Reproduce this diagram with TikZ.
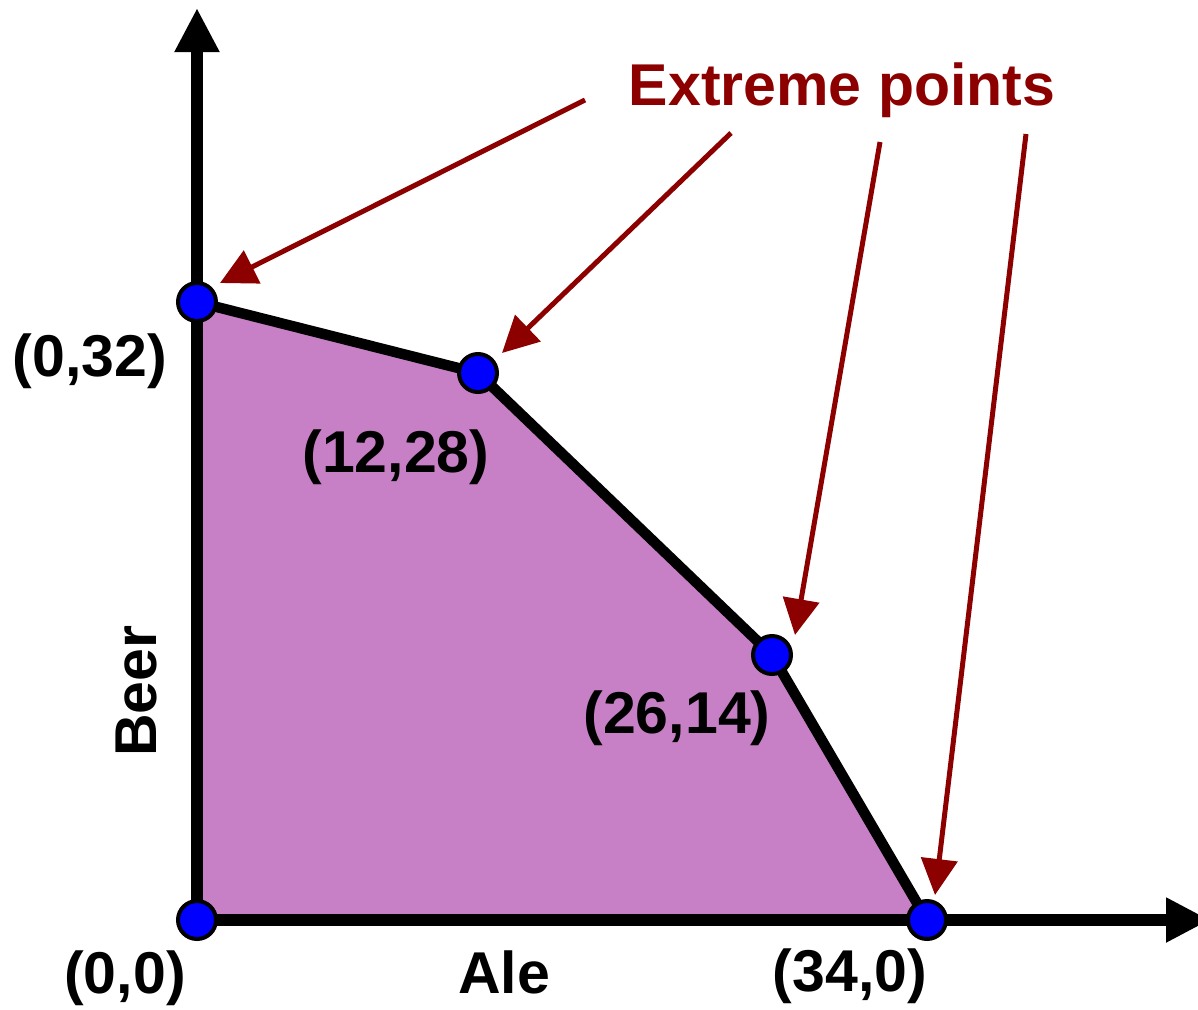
\documentclass[tikz,border=0pt]{standalone}
\usepackage{fontspec}
\setmainfont{Liberation Sans}
\usetikzlibrary{arrows.meta}
\definecolor{regionfill}{RGB}{199,127,198}
\definecolor{darkred}{RGB}{140,0,0}
\begin{document}
\begin{tikzpicture}[x=1pt,y=-1pt,
  axisline/.style={line width=12pt,-{Triangle[length=44pt,width=42pt]}},
  edgeline/.style={line width=10.5pt,line join=round},
  vertexdot/.style={circle,fill=blue,draw=black,line width=4pt,minimum size=38pt,inner sep=0pt},
  pointer/.style={darkred,line width=5pt,-{Triangle[length=36pt,width=36pt]}},
  lbl/.style={font=\fontsize{59}{61}\selectfont\bfseries,inner sep=0pt,anchor=base},
  redlbl/.style={lbl,text=darkred}]
\useasboundingbox (0,0) rectangle (1198,1009);
\begin{scope}
\clip (0,0) rectangle (1198,1009);
% region
\fill[regionfill] (197,920) -- (197,302) -- (478,373) -- (772,655) -- (927,920) -- cycle;
\draw[edgeline] (197,302) -- (478,373) -- (772,655) -- (927,920);
% axes
\coordinate (o) at (197,920);
\coordinate (ytip) at (197,8);
\coordinate (xtip) at (1210,920);
\draw[axisline] (o) -- (ytip);
\draw[axisline] (o) -- (xtip);
\end{scope}
% vertices
\node[vertexdot] (p0) at (197,920) {};
\node[vertexdot] (p1) at (197,302) {};
\node[vertexdot] (p2) at (478,373) {};
\node[vertexdot] (p3) at (772,655) {};
\node[vertexdot] (p4) at (927,920) {};
% labels
\node[lbl] (l1) at (90,376) {(0,32)};
\node[lbl] (l2) at (396,472) {(12,28)};
\node[lbl] (l3) at (677,733) {(26,14)};
\node[lbl] (l0) at (125,993) {(0,0)};
\node[lbl] (ale) at (504,993) {Ale};
\node[lbl] (l4) at (850,991) {(34,0)};
\node[lbl,rotate=90] (beer) at (156,691) {Beer};
\node[redlbl] (ext) at (842,105) {Extreme points};
% pointers
\coordinate (s1) at (585,100);
\coordinate (s2) at (731,133);
\coordinate (s3) at (880,142);
\coordinate (s4) at (1026,134);
\coordinate (t1) at (220,283);
\coordinate (t2) at (502,353);
\coordinate (t3) at (795,635);
\coordinate (t4) at (935,895);
\draw[pointer] (s1) -- (t1);
\draw[pointer] (s2) -- (t2);
\draw[pointer] (s3) -- (t3);
\draw[pointer] (s4) -- (t4);
\end{tikzpicture}
\end{document}
